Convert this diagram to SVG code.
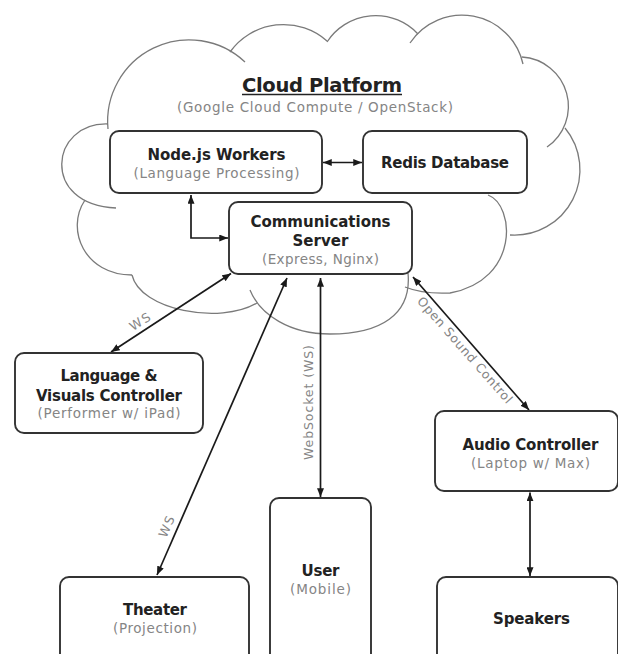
<svg xmlns="http://www.w3.org/2000/svg" width="618" height="654" viewBox="0 0 618 654">
<style>
.cloud{fill:none;stroke:#7a7a7a;stroke-width:1.3}
.box{fill:#fff;stroke:#333;stroke-width:1.9}
.t{font-family:"DejaVu Sans","Liberation Sans",sans-serif;font-weight:bold;font-size:15px;fill:#222;text-anchor:middle}
.s{font-family:"DejaVu Sans","Liberation Sans",sans-serif;font-size:13.5px;fill:#858585;text-anchor:middle}
.l{font-family:"DejaVu Sans","Liberation Sans",sans-serif;font-size:12.5px;fill:#858585;text-anchor:middle}
.c{fill:none;stroke:#1a1a1a;stroke-width:1.7;marker-start:url(#ah);marker-end:url(#ah)}
</style>
<defs>
<marker id="ah" viewBox="0 0 10 8" refX="10" refY="4" markerWidth="9" markerHeight="7" markerUnits="userSpaceOnUse" orient="auto-start-reverse">
<path d="M0,0 L10,4 L0,8 z" fill="#1a1a1a"/>
</marker>
</defs>
<rect width="618" height="654" fill="#fff"/>
<g id="cloud">
<path class="cloud" d="M108,129 A81.5,81.5 0 0 1 245,62"/>
<path class="cloud" d="M230,52 A65.8,65.8 0 0 1 327,41"/>
<path class="cloud" d="M327,42 A58,58 0 0 1 418,34"/>
<path class="cloud" d="M410,43 A62.5,62.5 0 0 1 523,64"/>
<path class="cloud" d="M522,57 A49.4,49.4 0 0 1 547,147"/>
<path class="cloud" d="M565,128 A65.5,65.5 0 0 1 510,235"/>
<path class="cloud" d="M488,195 C515,205 520,280 450,293 C430,294 415,291 405,287"/>
<path class="cloud" d="M408,273 C412,315 380,334 330,334 C290,334 260,315 250,290"/>
<path class="cloud" d="M132,275 C140,310 220,325 257,303"/>
<path class="cloud" d="M85,200 C65,230 85,275 132,275"/>
<path class="cloud" d="M108,124 C50,122 40,205 116,208"/>
<text class="t" x="322" y="92" style="font-size:19.5px" textLength="160">Cloud Platform</text>
<line x1="242" y1="94.5" x2="402" y2="94.5" stroke="#222" stroke-width="1.4"/>
<text class="s" x="315" y="111.5" textLength="276">(Google Cloud Compute / OpenStack)</text>
</g>
<g id="connectors">
<path class="c" d="M323,162.5 L362,162.5"/>
<path class="c" d="M191,195 L191,238 L228,238"/>
<path class="c" d="M231,273.5 L111,352"/>
<path class="c" d="M287,278 L157,575"/>
<path class="c" d="M320.5,278 L320.5,497"/>
<path class="c" d="M413,277 L529,410"/>
<path class="c" d="M530,492.5 L530,576"/>
<text class="l" x="140" y="326" transform="rotate(-33 140 321.7)" textLength="22">WS</text>
<text class="l" x="166.7" y="531" transform="rotate(-66.4 166.7 526.7)" textLength="22">WS</text>
<text class="l" x="308" y="407" transform="rotate(-90 308 402.5)" textLength="115">WebSocket (WS)</text>
<text class="l" x="465" y="354.5" transform="rotate(48.7 465 350)" textLength="137">Open Sound Control</text>
</g>
<g id="nodejs">
<rect class="box" x="110" y="131" width="212" height="62" rx="9"/>
<text class="t" x="216.5" y="160" textLength="138">Node.js Workers</text>
<text class="s" x="216.5" y="177.5" textLength="166">(Language Processing)</text>
</g>
<g id="redis">
<rect class="box" x="363" y="131" width="164" height="62" rx="9"/>
<text class="t" x="445" y="168" textLength="128">Redis Database</text>
</g>
<g id="comm">
<rect class="box" x="229" y="202" width="183" height="72" rx="9"/>
<text class="t" x="320.5" y="226.5" textLength="140">Communications</text>
<text class="t" x="320.5" y="245.8" textLength="56">Server</text>
<text class="s" x="320.5" y="264" textLength="117">(Express, Nginx)</text>
</g>
<g id="language">
<rect class="box" x="15" y="353" width="188" height="80" rx="9"/>
<text class="t" x="109" y="381" textLength="97">Language &amp;</text>
<text class="t" x="109" y="401" textLength="146">Visuals Controller</text>
<text class="s" x="109" y="418" textLength="143">(Performer w/ iPad)</text>
</g>
<g id="theater">
<rect class="box" x="60" y="577" width="189" height="95" rx="9"/>
<text class="t" x="155" y="615" textLength="64">Theater</text>
<text class="s" x="155" y="633" textLength="84">(Projection)</text>
</g>
<g id="user">
<rect class="box" x="270" y="498" width="101" height="175" rx="9"/>
<text class="t" x="320.5" y="575.5" textLength="38">User</text>
<text class="s" x="320.5" y="594" textLength="61">(Mobile)</text>
</g>
<g id="audio">
<rect class="box" x="435" y="411" width="183" height="80" rx="9"/>
<text class="t" x="530.5" y="450" textLength="136">Audio Controller</text>
<text class="s" x="530.5" y="467.5" textLength="119">(Laptop w/ Max)</text>
</g>
<g id="speakers">
<rect class="box" x="437" y="577" width="181" height="95" rx="9"/>
<text class="t" x="531.5" y="624" textLength="77">Speakers</text>
</g>
</svg>
